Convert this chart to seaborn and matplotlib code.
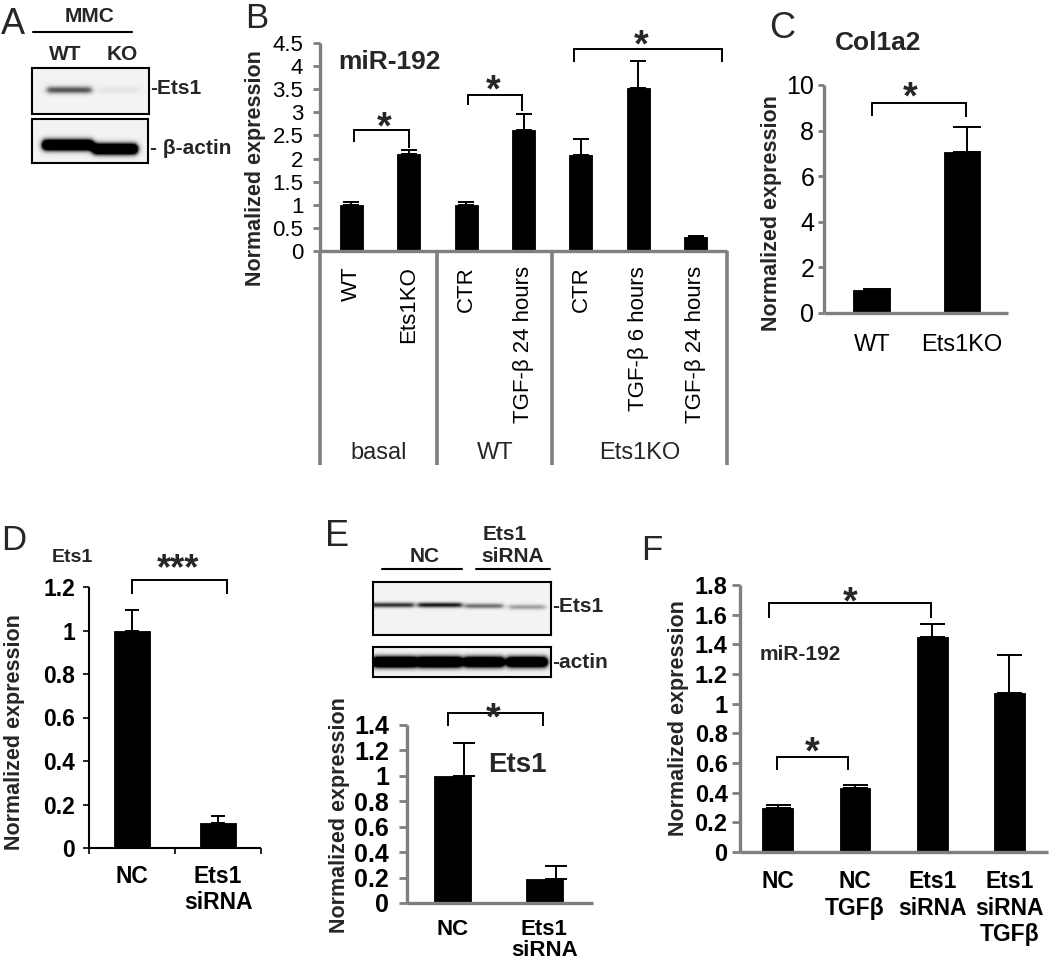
import numpy as np
import pandas as pd
import matplotlib
matplotlib.use('Agg')
import matplotlib.pyplot as plt
import matplotlib.transforms as mtransforms
import seaborn as sns

sns.set_theme(style='white')
plt.rcParams['font.family'] = ['Liberation Sans', 'DejaVu Sans']

# ------------------------------------------------------------------ data
b_groups = ['basal', 'basal', 'WT', 'WT', 'Ets1KO', 'Ets1KO', 'Ets1KO']
b_labels = ['WT', 'Ets1KO', 'CTR', 'TGF-β 24 hours', 'CTR', 'TGF-β 6 hours', 'TGF-β 24 hours']
b_values = [1.0, 2.09, 1.0, 2.62, 2.08, 3.52, 0.30]
b_errors = [0.05, 0.09, 0.05, 0.35, 0.35, 0.60, 0.02]
b_yticks = [0, 0.5, 1, 1.5, 2, 2.5, 3, 3.5, 4, 4.5]

c_labels = ['WT', 'Ets1KO']
c_values = [1.0, 7.05]
c_errors = [0.06, 1.12]
c_yticks = [0, 2, 4, 6, 8, 10]

d_labels = ['NC', 'Ets1\nsiRNA']
d_values = [1.0, 0.115]
d_errors = [0.095, 0.03]
d_yticks = [0, 0.2, 0.4, 0.6, 0.8, 1, 1.2]

e_labels = ['NC', 'Ets1\nsiRNA']
e_values = [1.0, 0.19]
e_errors = [0.26, 0.10]
e_yticks = [0, 0.2, 0.4, 0.6, 0.8, 1, 1.2, 1.4]

f_labels = ['NC', 'NC\nTGFβ', 'Ets1\nsiRNA', 'Ets1\nsiRNA\nTGFβ']
f_values = [0.295, 0.43, 1.45, 1.075]
f_errors = [0.02, 0.02, 0.09, 0.25]
f_yticks = [0, 0.2, 0.4, 0.6, 0.8, 1, 1.2, 1.4, 1.6, 1.8]

# western blot band intensities (0 = none, >=1 saturated)
a_lanes = ['WT', 'KO']
a_ets1_band = [0.62, 0.05]
a_actin_band = [2.2, 2.2]
e_ets1_band = [0.75, 0.85, 0.5, 0.32]
e_actin_band = [2.2, 2.2, 2.0, 2.0]

# ------------------------------------------------------------------ helpers
W, H = 1050, 965
fig = plt.figure(figsize=(W / 100, H / 100), dpi=100)
GRAY = '#7f7f7f'


def px_ax(l, t, r, b):
    return fig.add_axes([l / W, 1 - b / H, (r - l) / W, (b - t) / H])


def ftext(x, y, s, **kw):
    kw.setdefault('ha', 'center')
    kw.setdefault('va', 'center')
    return fig.text(x / W, 1 - y / H, s, **kw)


def fline(x0, x1, y0, y1, **kw):
    fig.add_artist(plt.Line2D([x0 / W, x1 / W], [1 - y0 / H, 1 - y1 / H],
                              transform=fig.transFigure, **kw))


def bar_panel(ax, cats, vals, errs, width, yticks, xlim, ylim, axcolor, axlw,
              tick_len, tick_w, bold, fs_y, fs_x, ypad, xpad, cap, err_dx=0.0):
    df = pd.DataFrame({'cat': cats, 'val': vals})
    sns.barplot(data=df, x='cat', y='val', order=cats, color='black', saturation=1,
                width=width, errorbar=None, ax=ax, edgecolor='black', linewidth=0.6)
    n = len(cats)
    ax.errorbar(np.arange(n) + err_dx, vals, yerr=[np.zeros(n), errs], fmt='none',
                ecolor='black', elinewidth=1.4, capsize=cap, capthick=1.4, zorder=3)
    ax.set_xlim(*xlim)
    ax.set_ylim(*ylim)
    ax.set_yticks(yticks)
    ax.set_yticklabels([f'{v:g}' for v in yticks])
    ax.set_xlabel('')
    ax.set_ylabel('')
    for s in ['top', 'right']:
        ax.spines[s].set_visible(False)
    for s in ['left', 'bottom']:
        ax.spines[s].set_visible(True)
        ax.spines[s].set_color(axcolor)
        ax.spines[s].set_linewidth(axlw)
        ax.spines[s].set_capstyle('butt')
    ax.tick_params(axis='y', direction='out', length=tick_len, width=tick_w, color=axcolor,
                   pad=ypad, labelsize=fs_y, left=True)
    ax.tick_params(axis='x', length=0, pad=xpad, labelsize=fs_x)
    wt = 'bold' if bold else 'normal'
    for lab in ax.get_yticklabels() + ax.get_xticklabels():
        lab.set_fontweight(wt)
        lab.set_color('black')
    ax.set_facecolor('none')
    ax.grid(False)


def bracket(ax, x1, x2, y, yl1, yl2, lw=1.4):
    ax.plot([x1, x1, x2, x2], [yl1, y, y, yl2], color='black', lw=lw,
            clip_on=False, solid_joinstyle='miter', solid_capstyle='butt')


def star(ax, x, y, s='*', fs=27):
    off = mtransforms.ScaledTranslation(0, -0.30 * fs / 72, fig.dpi_scale_trans)
    ax.text(x, y, s, ha='center', va='center', fontsize=fs, fontweight='bold',
            transform=ax.transData + off, clip_on=False)


def blot(box, lane_cx, lane_hw, lane_cy, sig, intens, bg=0.05):
    l, t, r, b = box
    w, h = r - l, b - t
    ax = px_ax(l, t, r, b)
    yy, xx = np.mgrid[0:h, 0:w] + 0.5
    img = np.full((h, w), bg)
    for cx, hw, cy, inten in zip(lane_cx, lane_hw, lane_cy, intens):
        fx = 0.5 * (np.tanh((xx - (cx - l - hw)) / 3.0) - np.tanh((xx - (cx - l + hw)) / 3.0))
        fy = np.exp(-0.5 * ((yy - (cy - t)) / sig) ** 2)
        img += inten * fx * fy
    ax.imshow(np.clip(img, 0, 1), cmap='gray_r', vmin=0, vmax=1, aspect='auto',
              interpolation='bilinear', extent=(0, w, h, 0))
    ax.set_xticks([])
    ax.set_yticks([])
    for s in ax.spines.values():
        s.set_visible(True)
        s.set_color('black')
        s.set_linewidth(1.5)
    return ax


# ------------------------------------------------------------------ panel A
ftext(13, 25, 'A', fontsize=26)
ftext(90, 16, 'MMC', fontsize=15, fontweight='bold')
fline(33, 132, 32, 32, color='black', lw=1.5)
ftext(65, 54, a_lanes[0], fontsize=15, fontweight='bold')
ftext(122, 54, a_lanes[1], fontsize=15, fontweight='bold')
blot((32, 68, 149, 114), [69, 118], [22, 20], [90, 90], 2.5, a_ets1_band)
blot((32, 119, 148, 163), [68, 115], [25, 22], [145, 149], 3.6, a_actin_band)
ftext(150, 88, '-Ets1', fontsize=15, fontweight='bold', ha='left')
ftext(150, 148, '- β-actin', fontsize=15, fontweight='bold', ha='left')

# ------------------------------------------------------------------ panel B
ftext(257, 18, 'B', fontsize=25)
axB = px_ax(320, 43, 727, 251)
b_keys = [f'{g}|{lab}' for g, lab in zip(b_groups, b_labels)]
bar_panel(axB, b_keys, b_values, b_errors, 0.40, b_yticks, (-0.54, 6.54), (0, 4.5),
          GRAY, 2.4, 5, 2.0, False, 16, 16, 7, 11, 6)
axB.set_xticks(range(len(b_labels)))
axB.set_xticklabels(b_labels, rotation=90, va='top', ha='center')
# group separators and group names
y_bottom = -4.63
bounds = [-0.54, 1.5, 3.5, 6.54]
for xs in bounds:
    axB.plot([xs, xs], [0, y_bottom], color=GRAY, lw=2.6, clip_on=False, solid_capstyle='butt')
grp_names = []
for g in b_groups:
    if g not in grp_names:
        grp_names.append(g)
for i, g in enumerate(grp_names):
    axB.text((bounds[i] + bounds[i + 1]) / 2, -4.37, g, ha='center', va='center',
             fontsize=17, clip_on=False)
bracket(axB, 0.06, 1.0, 2.62, 2.36, 2.22)
star(axB, 0.57, 2.9)
bracket(axB, 2.03, 2.97, 3.38, 3.16, 3.02)
star(axB, 2.47, 3.7)
bracket(axB, 3.88, 6.45, 4.37, 4.09, 4.09)
star(axB, 5.04, 4.66)
ftext(338, 62, 'miR-192', fontsize=19, fontweight='bold', ha='left')
ftext(255, 168, 'Normalized expression', fontsize=15.5, fontweight='bold', rotation=90)

# ------------------------------------------------------------------ panel C
ftext(782, 28, 'C', fontsize=26)
ftext(878, 43, 'Col1a2', fontsize=19, fontweight='bold')
axC = px_ax(824, 85, 1008, 313)
bar_panel(axC, c_labels, c_values, c_errors, 0.41, c_yticks, (-0.53, 1.51), (0, 10),
          GRAY, 2.4, 4, 2.0, False, 18, 17, 3, 15, 10, err_dx=0.06)
bracket(axC, 0.0, 1.04, 9.2, 8.65, 8.6)
star(axC, 0.42, 9.9)
ftext(772, 213, 'Normalized expression', fontsize=15.5, fontweight='bold', rotation=90)

# ------------------------------------------------------------------ panel D
ftext(14, 540, 'D', fontsize=25)
ftext(72, 557, 'Ets1', fontsize=14, fontweight='bold')
axD = px_ax(89, 587, 261, 848)
bar_panel(axD, d_labels, d_values, d_errors, 0.42, d_yticks, (-0.5, 1.5), (0, 1.2),
          'black', 1.5, 4, 1.2, True, 16.5, 16.5, 6, 12, 5)
axD.set_xticks([-0.5, 0.5, 1.5], minor=True)
axD.tick_params(axis='x', which='minor', direction='out', length=4, width=1.2,
                color='black', bottom=True)
bracket(axD, 0.0, 1.1, 1.23, 1.17, 1.17)
star(axD, 0.54, 1.33, '***', fs=26)
ftext(15, 732, 'Normalized expression', fontsize=15.5, fontweight='bold', rotation=90)

# ------------------------------------------------------------------ panel E
ftext(337, 536, 'E', fontsize=26)
ftext(505, 534, 'Ets1', fontsize=15, fontweight='bold')
ftext(425, 557, 'NC', fontsize=15, fontweight='bold')
ftext(513, 557, 'siRNA', fontsize=15, fontweight='bold')
fline(382, 462, 569, 569, color='black', lw=1.5)
fline(476, 550, 569, 569, color='black', lw=1.5)
blot((373, 582, 551, 635), [392, 440, 484, 527], [22, 22, 19, 18], [605, 605, 606, 607],
     1.8, e_ets1_band)
blot((373, 647, 551, 677), [395, 440, 484, 527], [22, 22, 20, 20], [662, 662, 662, 662],
     3.6, e_actin_band)
ftext(552, 607, '-Ets1', fontsize=15, fontweight='bold', ha='left')
ftext(552, 663, '-actin', fontsize=15, fontweight='bold', ha='left')
axE = px_ax(407, 725, 593, 903)
bar_panel(axE, e_labels, e_values, e_errors, 0.40, e_yticks, (-0.49, 1.53), (0, 1.4),
          GRAY, 2.4, 6, 2.0, True, 18, 16, 7, 11.5, 8, err_dx=0.13)
for lab in axE.get_xticklabels():
    lab.set_linespacing(1.0)
bracket(axE, -0.04, 0.99, 1.496, 1.39, 1.39)
star(axE, 0.45, 1.535)
ftext(517, 765, 'Ets1', fontsize=20, fontweight='bold')
ftext(340, 815, 'Normalized expression', fontsize=15.5, fontweight='bold', rotation=90)

# ------------------------------------------------------------------ panel F
ftext(652, 551, 'F', fontsize=25)
axF = px_ax(740, 585, 1048, 852)
bar_panel(axF, f_labels, f_values, f_errors, 0.40, f_yticks, (-0.49, 3.5), (0, 1.8),
          GRAY, 2.4, 6, 2.0, True, 17, 16.5, 3, 13, 9)
bracket(axF, -0.12, 1.99, 1.68, 1.58, 1.58)
star(axF, 0.94, 1.75)
bracket(axF, -0.01, 0.91, 0.64, 0.55, 0.55)
star(axF, 0.45, 0.74)
ftext(760, 655, 'miR-192', fontsize=15, fontweight='bold', ha='left')
ftext(679, 718, 'Normalized expression', fontsize=15.5, fontweight='bold', rotation=90)

fig.savefig('out.png', dpi=100, facecolor='white')
